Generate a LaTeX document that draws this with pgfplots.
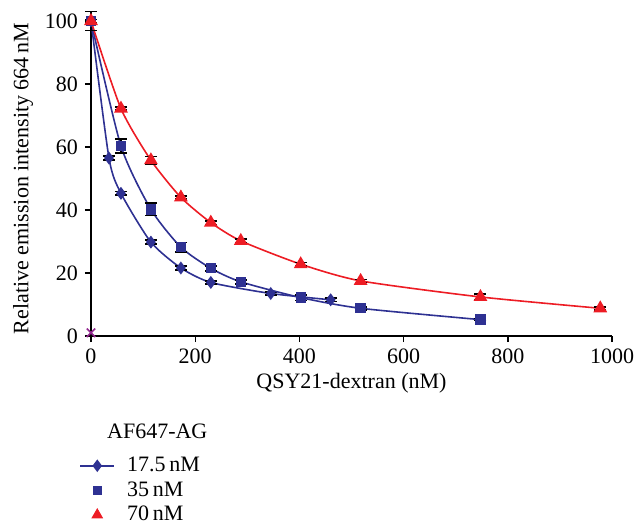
\documentclass[border=0pt]{standalone}
\usepackage{fontspec}
\setmainfont{Liberation Serif}
\usepackage{pgfplots}
\pgfplotsset{compat=1.18}
\definecolor{cblue}{RGB}{46,49,146}
\definecolor{cred}{RGB}{237,28,36}
\definecolor{cpurple}{RGB}{146,39,143}
\begin{document}
\begin{tikzpicture}[font=\fontsize{11}{13}\selectfont]
\useasboundingbox (-45.5pt,-95.5pt) rectangle (272pt,168pt);
\begin{axis}[
  scale only axis,
  width=260.5pt, height=157.5pt,
  at={(0,0)}, anchor=south west,
  xmin=0, xmax=1000, ymin=0, ymax=100,
  axis x line=bottom, axis y line=left,
  axis line style={-, line width=0.7pt},
  xtick={0,200,...,1000}, ytick={0,20,...,100},
  tick align=outside, major tick length=3pt,
  tick style={black, line width=0.7pt},
  /pgf/number format/assume math mode=true,
  /pgf/number format/1000 sep={},
  tick label style={font=\fontsize{11}{13}\selectfont},
  label style={font=\fontsize{11}{13}\selectfont},
  xlabel={QSY21-dextran (nM)},
  ylabel={Relative emission intensity 664\,nM},
  xlabel style={yshift=2pt},
  ylabel style={yshift=-1pt},
  clip=false,
  error bars/error bar style={black, thick},
  error bars/error mark options={black, thick, mark size=3pt, rotate=90},
  legend style={at={(axis description cs:0,0)}, anchor=north west, xshift=-9pt, yshift=-40pt,
    draw=none, fill=none, row sep=-0.5pt, font=\fontsize{11}{13}\selectfont,
    nodes={inner xsep=6pt}},
  legend cell align=left,
]
\addlegendimage{empty legend}
\addlegendentry{\hspace{-10pt}\raisebox{4pt}{AF647-AG}}
\addlegendimage{cblue, thick, mark=diamond*, mark size=2.5pt}
\addlegendentry{17.5\,nM}
\addlegendimage{only marks, cblue, mark=square*, mark size=2pt}
\addlegendentry{35\,nM}
\addlegendimage{only marks, cred, mark=triangle*, mark size=3pt}
\addlegendentry{70\,nM}

% 17.5 nM (diamonds)
\addplot[cblue, thick, smooth, tension=0.4, mark=diamond*, mark size=2.6pt, forget plot,
  error bars/.cd, y dir=both, y explicit]
  table[x=x, y=y, y error=e] {
x y e
0 100 0.5
34.5 56.5 0.6
57.5 45.3 0.6
115 29.8 0.6
172.5 21.6 0.6
230 17.0 0.5
345 13.5 0.5
460 11.5 0.5
};
% 35 nM (squares)
\addplot[cblue, thick, smooth, tension=0.4, mark=square*, mark size=2.2pt, forget plot,
  error bars/.cd, y dir=both, y explicit]
  table[x=x, y=y, y error=e] {
x y e
0 100 0.5
57.5 60.3 2.2
115 40.2 2.0
172.5 28.2 1.5
230 21.5 0.8
287.5 17.2 0.6
402.5 12.2 0.9
517.5 8.8 0.5
747.5 5.2 0.3
};
% 70 nM (triangles)
\addplot[cred, thick, smooth, tension=0.4, mark=triangle*, mark size=3.2pt, forget plot,
  error bars/.cd, y dir=both, y explicit]
  table[x=x, y=y, y error=e] {
x y e
0 100 3.0
57.5 72.2 0.5
115 55.8 1.2
172.5 44.0 0.5
230 36.0 0.6
287.5 30.2 0.6
402.5 22.8 0.5
517.5 17.5 0.5
747.5 12.4 1.0
977.5 8.8 0.5
};
% control
\addplot[cpurple, only marks, mark=x, mark size=3pt, thick, forget plot] coordinates {(0,1)};
\end{axis}
\end{tikzpicture}
\end{document}
